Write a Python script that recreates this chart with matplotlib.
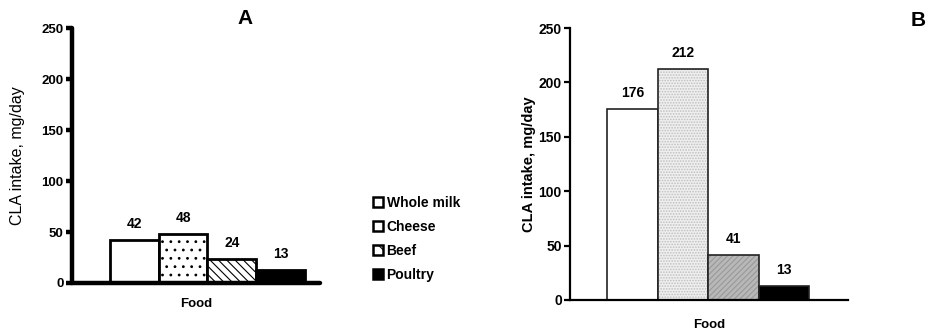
import matplotlib
matplotlib.use("Agg")
import matplotlib.pyplot as plt
from matplotlib.patches import Patch

plt.rcParams['font.family'] = ['Liberation Sans', 'DejaVu Sans']
plt.rcParams['hatch.linewidth'] = 0.8

foods = ["Whole milk", "Cheese", "Beef", "Poultry"]
intake_a = [42, 48, 24, 13]
intake_b = [176, 212, 41, 13]
y_ticks = [0, 50, 100, 150, 200, 250]

fig = plt.figure(figsize=(9.3, 3.34), dpi=100)

# ---- Panel A ----
ax_a = fig.add_axes([0.0774, 0.1527, 0.2666, 0.7633])
face_a = ["white", "white", "white", "black"]
hatch_a = [None, "..", "\\\\\\\\", None]
xs = list(range(len(foods)))
bars_a = ax_a.bar(xs, intake_a, width=1.0, color=face_a, edgecolor="black",
                  linewidth=2.0, zorder=2)
for b, h in zip(bars_a, hatch_a):
    if h:
        b.set_hatch(h)
for x, v in zip(xs, intake_a):
    ax_a.annotate(str(v), (x, v), xytext=(0, 11.5), textcoords="offset points",
                  ha="center", va="center", fontsize=10, fontweight="bold")
ax_a.set_xlim(-1.276, 3.806)
ax_a.set_ylim(0, 250)
ax_a.set_yticks(y_ticks)
ax_a.set_xticks([])
for s in ["top", "right"]:
    ax_a.spines[s].set_visible(False)
for s in ["left", "bottom"]:
    ax_a.spines[s].set_linewidth(3.2)
    ax_a.spines[s].set_capstyle("round")
ax_a.tick_params(axis="y", length=4, width=3.2, pad=2, labelsize=9.5)
for lab in ax_a.get_yticklabels():
    lab.set_fontweight("bold")
ax_a.set_ylabel("CLA intake, mg/day", fontsize=11.5, labelpad=12)
ax_a.set_xlabel("Food", fontsize=9.5, fontweight="bold", labelpad=11)
fig.text(0.263, 0.945, "A", fontsize=15, fontweight="bold", ha="center", va="center")

# legend for panel A
handles = [Patch(facecolor=f, edgecolor="black", linewidth=1.8, hatch=h)
           for f, h in zip(face_a, [None, None, "\\\\", None])]
leg = fig.legend(handles, foods, loc="upper left", bbox_to_anchor=(0.388, 0.452),
                 frameon=False, handlelength=0.7, handleheight=0.7,
                 handletextpad=0.25, labelspacing=0.72,
                 prop={"weight": "bold", "size": 10})

# ---- Panel B ----
ax_b = fig.add_axes([0.613, 0.1018, 0.299, 0.8142])
face_b = ["white", "#efefef", "#b8b8b8", "black"]
hatch_b = [None, "......", "//////", None]
bars_b = ax_b.bar(xs, intake_b, width=1.0, color=face_b, edgecolor="#222222",
                  linewidth=1.2, zorder=2)
for b, h in zip(bars_b, hatch_b):
    if h:
        b.set_hatch(h)
bars_b[1]._hatch_color = (0.75, 0.75, 0.75, 1.0)
bars_b[2]._hatch_color = (0.6, 0.6, 0.6, 1.0)
for x, v in zip(xs, intake_b):
    ax_b.annotate(str(v), (x, v), xytext=(0, 11.5), textcoords="offset points",
                  ha="center", va="center", fontsize=10, fontweight="bold")
ax_b.set_xlim(-1.233, 4.272)
ax_b.set_ylim(0, 250)
ax_b.set_yticks(y_ticks)
ax_b.set_xticks([])
for s in ["top", "right"]:
    ax_b.spines[s].set_visible(False)
for s in ["left", "bottom"]:
    ax_b.spines[s].set_linewidth(1.6)
ax_b.tick_params(axis="y", length=4, width=1.6, pad=2, labelsize=10)
for lab in ax_b.get_yticklabels():
    lab.set_fontweight("bold")
ax_b.set_ylabel("CLA intake, mg/day", fontsize=10.5, fontweight="bold", labelpad=2)
ax_b.set_xlabel("Food", fontsize=9.5, fontweight="bold", labelpad=14)
fig.text(0.987, 0.94, "B", fontsize=15, fontweight="bold", ha="center", va="center")

fig.savefig("out.png", dpi=100)
